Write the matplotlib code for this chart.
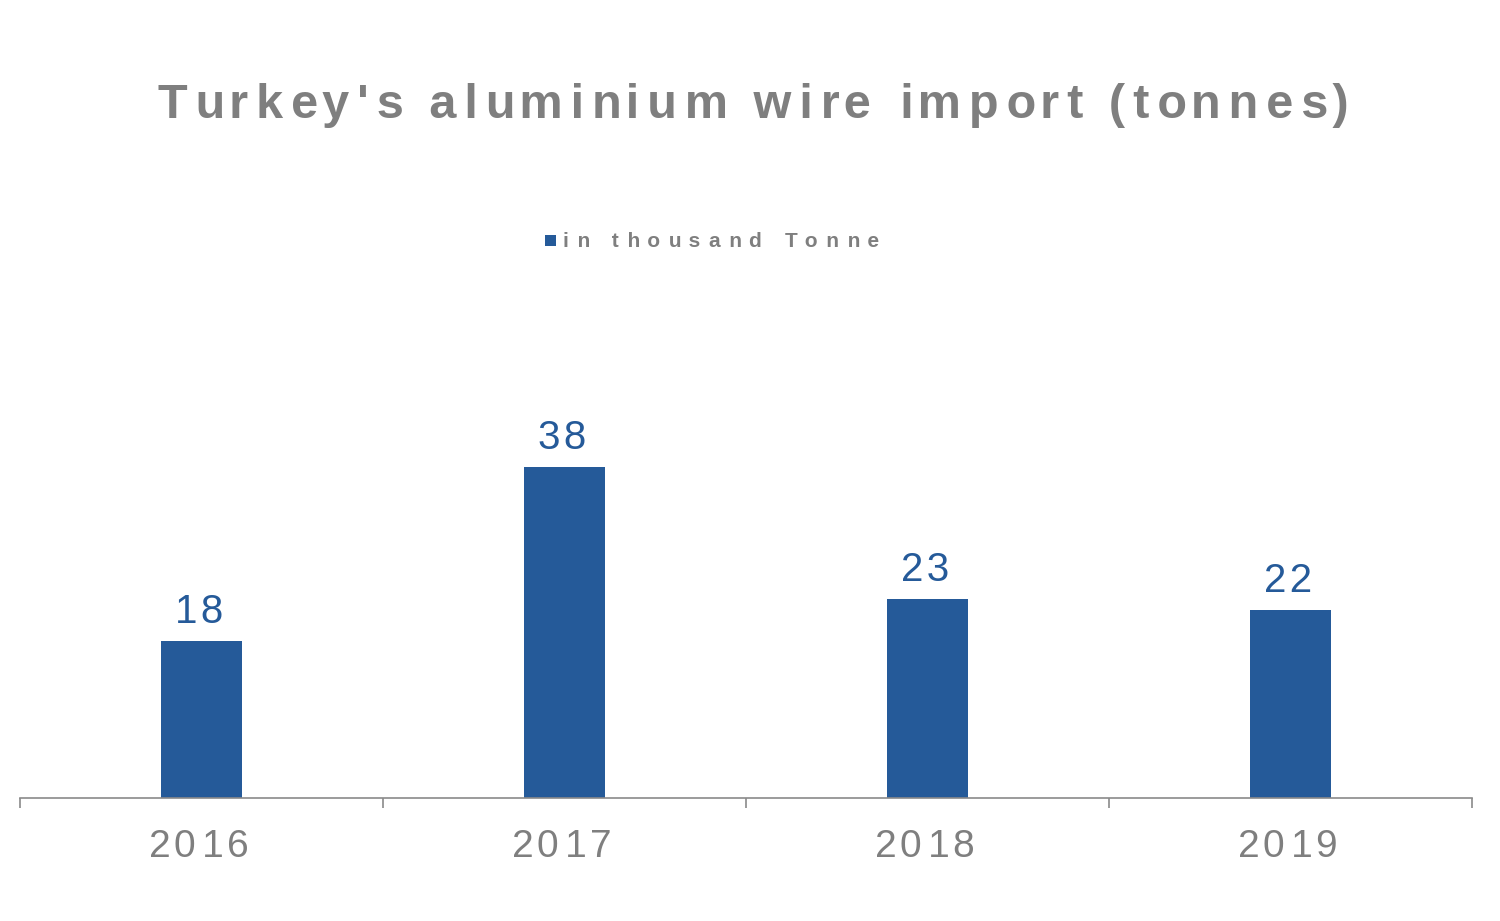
import matplotlib
matplotlib.use('Agg')
import matplotlib.pyplot as plt
from matplotlib.patches import Rectangle

years = ['2016', '2017', '2018', '2019']
values = [18.0, 38.0, 22.9, 21.6]
title = "Turkey's aluminium wire import (tonnes)"
series_name = "in thousand Tonne"

BAR = '#255A99'
GRAY = '#7F7F7F'
AXC = '#8A8A8A'
FAM = ['Liberation Sans', 'DejaVu Sans']
HAIR = '\u200a'

W, H = 1500, 921
fig = plt.figure(figsize=(15, 9.21), dpi=100)
fig.patch.set_facecolor('white')
ax = fig.add_axes([20 / W, 1 - 798 / H, 1452 / W, (798 - 300) / H])
renderer = fig.canvas.get_renderer()


def width(s, size, weight):
    t = fig.text(0, 0, s, fontsize=size, fontweight=weight, family=FAM)
    w = t.get_window_extent(renderer).width
    t.remove()
    return w


def spread(s, size, weight, target_w=None, gap_px=None):
    base = width(s, size, weight)
    hw = (width('a' + HAIR * 10 + 'a', size, weight) - width('aa', size, weight)) / 10
    gaps = len(s) - 1
    if gap_px is None:
        gap_px = (target_w - base) / gaps
    g = max(0.0, gap_px / hw)
    out = s[0]
    for i in range(1, len(s)):
        n = int(round(i * g)) - int(round((i - 1) * g))
        out += HAIR * n + s[i]
    return out


x = list(range(len(years)))
ax.bar(x, values, width=0.223, color=BAR, zorder=2)
ax.set_xlim(-0.5, len(years) - 0.5)
ax.set_ylim(0, 57.2)
ax.set_xticks([i - 0.5 for i in range(len(years) + 1)])
ax.set_xticklabels([])
ax.set_yticks([])
for s in ['top', 'right', 'left']:
    ax.spines[s].set_visible(False)
ax.spines['bottom'].set_color(AXC)
ax.spines['bottom'].set_linewidth(1.2)
ax.tick_params(axis='x', direction='out', length=7.5, width=1.2, color=AXC)
ax.set_facecolor('none')

# category labels
for i, yr in enumerate(years):
    lab = spread(yr, 28, 'normal', gap_px=4.3)
    ax.annotate(lab, xy=(i, 0), xycoords='data', xytext=(-3 * 0.72, -59 * 0.72),
                textcoords='offset points', ha='center', va='baseline',
                fontsize=28, color=GRAY, family=FAM)

# data labels
for i, v in enumerate(values):
    lab = spread('{:.0f}'.format(v), 29, 'normal', gap_px=4.5)
    ax.annotate(lab, xy=(i, v), xycoords='data', xytext=(-2 * 0.72, 18 * 0.72),
                textcoords='offset points', ha='center', va='baseline',
                fontsize=29, color=BAR, family=FAM)

# title
tl = spread(title, 35, 'bold', target_w=1188)
fig.text(753.5 / W, 1 - 118 / H, tl, ha='center', va='baseline', fontsize=35,
         fontweight='bold', color=GRAY, family=FAM)

# legend
fig.patches.append(Rectangle((545 / W, 1 - 246 / H), 11 / W, 11 / H,
                             transform=fig.transFigure, facecolor=BAR,
                             edgecolor='none'))
ll = spread(series_name, 15, 'bold', target_w=315)
fig.text(563 / W, 1 - 247 / H, ll, ha='left', va='baseline', fontsize=15,
         fontweight='bold', color=GRAY, family=FAM)

fig.savefig('out.png', dpi=100, facecolor='white')
